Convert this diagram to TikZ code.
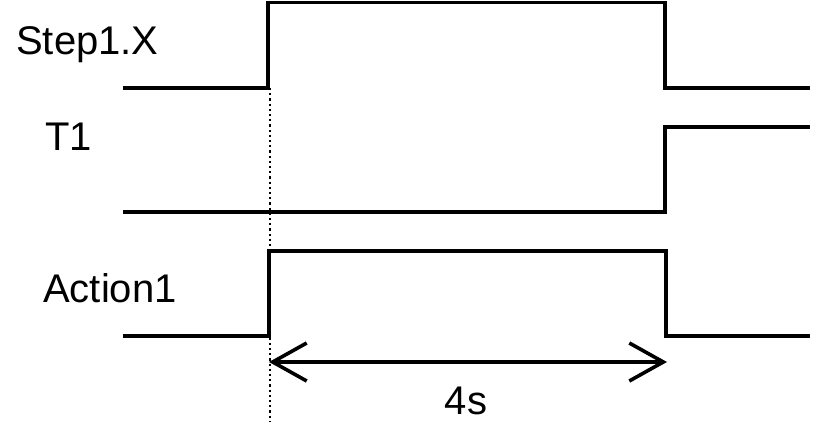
\documentclass[tikz,border=0pt]{standalone}
\usepackage{fontspec}
\setmainfont{Liberation Sans}
\usetikzlibrary{arrows.meta}
\begin{document}
\begin{tikzpicture}[x=1pt,y=1pt,
  signal/.style={line width=3.8pt,line join=miter},
  lbl/.style={anchor=base west,inner sep=0pt,font=\fontsize{40}{42}\selectfont},
  guide/.style={line width=2.8pt,dash pattern=on 2.2pt off 3pt},
  dim/.style={line width=3.6pt,{Straight Barb[length=34pt,width=38pt]}-{Straight Barb[length=34pt,width=38pt]}}]
\useasboundingbox (0,0) rectangle (813,422);
% labels
\node[lbl] (lstep) at (16,367) {Step1.X};
\node[lbl] (lt1) at (45,271) {T1};
\node[lbl] (lact) at (43,119) {Action1};
% signals
\draw[signal] (123,334) -- (268,334) -- (268,419.5) -- (665,419.5) -- (665,334) -- (810,334);
\draw[signal] (123,210) -- (665,210) -- (665,295) -- (810,295);
\draw[signal] (123,86) -- (269,86) -- (269,171) -- (666,171) -- (666,86) -- (810,86);
% guide
\coordinate (gtop) at (270,334);
\coordinate (gbot) at (270,0);
\draw[guide] (gtop) -- (gbot);
% dimension
\coordinate (da) at (269,60);
\coordinate (db) at (667,60);
\draw[dim] (da) -- (db);
\node[anchor=base,inner sep=0pt,font=\fontsize{40}{42}\selectfont] (lfour) at (466,7) {4s};
\end{tikzpicture}
\end{document}
